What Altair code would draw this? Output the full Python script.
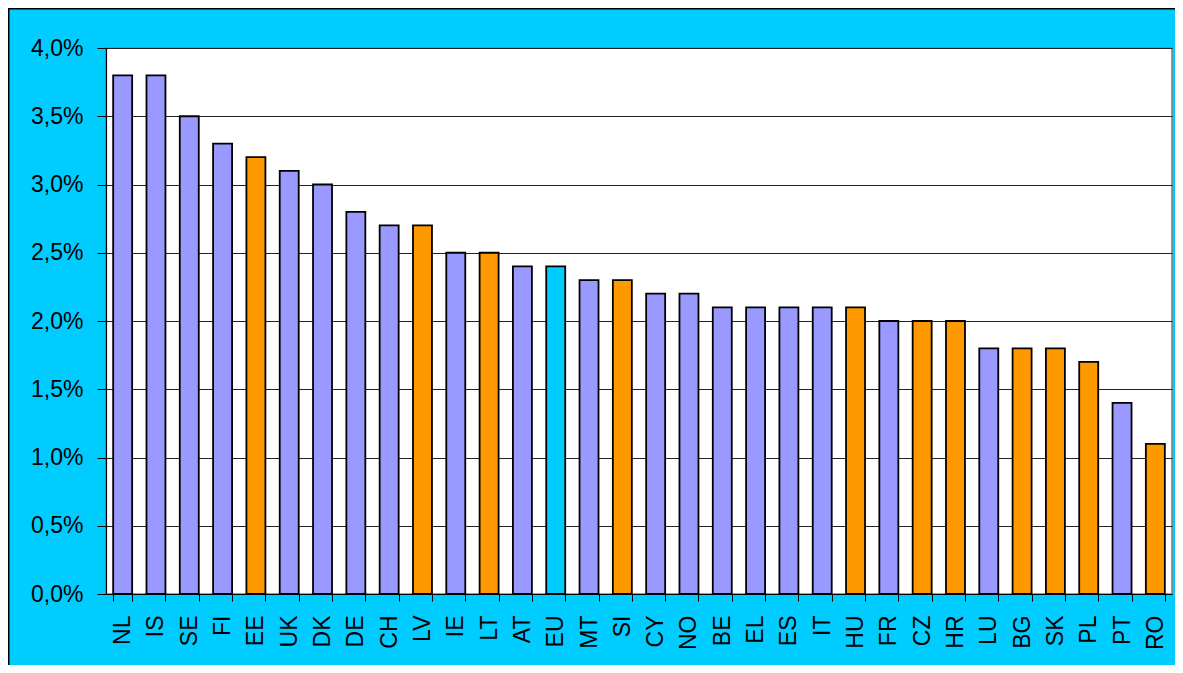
import altair as alt
import pandas as pd

countries = ["NL", "IS", "SE", "FI", "EE", "UK", "DK", "DE", "CH", "LV", "IE", "LT",
             "AT", "EU", "MT", "SI", "CY", "NO", "BE", "EL", "ES", "IT", "HU", "FR",
             "CZ", "HR", "LU", "BG", "SK", "PL", "PT", "RO"]
values = [3.8, 3.8, 3.5, 3.3, 3.2, 3.1, 3.0, 2.8, 2.7, 2.7, 2.5, 2.5,
          2.4, 2.4, 2.3, 2.3, 2.2, 2.2, 2.1, 2.1, 2.1, 2.1, 2.1, 2.0,
          2.0, 2.0, 1.8, 1.8, 1.8, 1.7, 1.4, 1.1]
groups = ["A", "A", "A", "A", "B", "A", "A", "A", "A", "B", "A", "B",
          "A", "EU", "A", "B", "A", "A", "A", "A", "A", "A", "B", "A",
          "B", "B", "A", "B", "B", "B", "A", "B"]
y_ticks = [0.0, 0.5, 1.0, 1.5, 2.0, 2.5, 3.0, 3.5, 4.0]

df = pd.DataFrame({"country": countries, "value": values, "group": groups})

FONT = "Liberation Sans"
W, H = 1066, 546
PAD_L, PAD_T = 98, 40

bars = alt.Chart(df).mark_bar(stroke="black", strokeWidth=1.8).encode(
    x=alt.X("country:N", sort=countries,
            scale=alt.Scale(paddingInner=0.43, paddingOuter=0.215),
            axis=alt.Axis(title=None, labelAngle=-90, labelPadding=14, tickSize=7, tickColor="black",
                          tickBand="extent", domainColor="black", domainWidth=1.2)),
    y=alt.Y("value:Q", scale=alt.Scale(domain=[0, 4], nice=False),
            axis=alt.Axis(title=None, values=y_ticks, labelPadding=14, tickSize=9, tickColor="black",
                          domainColor="black", domainWidth=1.2,
                          gridColor="#222222", gridWidth=1,
                          labelExpr="replace(format(datum.value, '.1f'), '.', ',') + '%'")),
    color=alt.Color("group:N",
                    scale=alt.Scale(domain=["A", "B", "EU"],
                                    range=["#9999FF", "#FF9900", "#00CCFF"]),
                    legend=None),
)

# outer frame of the chart (left and top edges)
frame_left = alt.Chart().mark_rule(color="black", strokeWidth=1.5).encode(
    x=alt.value(-PAD_L + 0.75), y=alt.value(-PAD_T), y2=alt.value(H + 71))
frame_top = alt.Chart().mark_rule(color="black", strokeWidth=1.5).encode(
    x=alt.value(-PAD_L), x2=alt.value(W + 3), y=alt.value(-PAD_T + 0.75))

chart = alt.layer(bars, frame_left, frame_top).properties(
    width=W, height=H,
    autosize=alt.AutoSizeParams(type="none"),
    padding={"left": PAD_L, "top": PAD_T, "right": 3, "bottom": 71},
    background="#00CCFF",
).configure_view(
    stroke="#808080", strokeWidth=1.5, fill="white"
).configure_axis(
    labelFont=FONT, labelFontSize=23, labelColor="black"
).configure_axisX(grid=False)

chart.save("out.html", embed_options={"renderer": "svg", "actions": False})
